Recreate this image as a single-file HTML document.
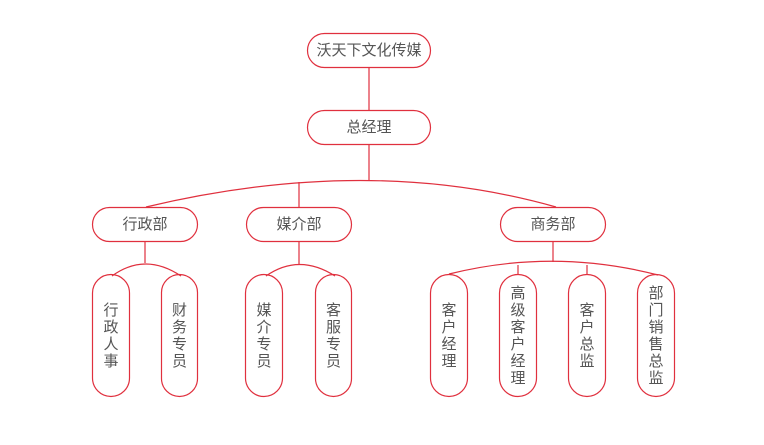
<!DOCTYPE html>
<html><head><meta charset="utf-8"><style>
html,body{margin:0;padding:0;background:#fff;width:764px;height:445px;overflow:hidden;position:relative}
svg{position:absolute;left:0;top:0}
.t{position:absolute;display:flex;align-items:center;justify-content:center;text-align:center;color:#555;font-family:"Liberation Sans","Noto Sans CJK SC",sans-serif;font-size:15px;line-height:17px}
.v{width:20px;word-break:break-all}
</style></head><body>
<svg width="764" height="445" fill="none" stroke="#e0303e" stroke-width="1.2">
<rect x="307.5" y="33.5" width="123" height="34" rx="17"/>
<rect x="307.5" y="110.5" width="123" height="34" rx="17"/>
<line x1="369" y1="67.5" x2="369" y2="110.5"/>
<line x1="369" y1="144.5" x2="369" y2="180"/>
<path d="M146 207 Q369 154 556 207"/>
<line x1="299" y1="182" x2="299" y2="207.5"/>
<rect x="92.5" y="207.5" width="105" height="34" rx="17"/>
<rect x="246.5" y="207.5" width="105" height="34" rx="17"/>
<rect x="500.5" y="207.5" width="105" height="34" rx="17"/>
<line x1="145" y1="241.5" x2="145" y2="263"/>
<path d="M112 276 Q145 252 181 276"/>
<line x1="299" y1="241.5" x2="299" y2="264"/>
<path d="M266 276 Q299 253 335 276"/>
<line x1="553" y1="241.5" x2="553" y2="262"/>
<path d="M449 274 Q553 248 658 275"/>
<line x1="518" y1="265" x2="518" y2="275"/>
<line x1="587" y1="265" x2="587" y2="275"/>
<rect x="92.5" y="274.5" width="37" height="122" rx="18.5"/>
<rect x="161.5" y="274.5" width="36" height="122" rx="18"/>
<rect x="245.5" y="274.5" width="37" height="122" rx="18.5"/>
<rect x="315.5" y="274.5" width="36" height="122" rx="18"/>
<rect x="430.5" y="274.5" width="37" height="122" rx="18.5"/>
<rect x="499.5" y="274.5" width="37" height="122" rx="18.5"/>
<rect x="568.5" y="274.5" width="37" height="122" rx="18.5"/>
<rect x="637.5" y="274.5" width="37" height="122" rx="18.5"/>
</svg>
<div class="t" style="left:307px;top:33px;width:124px;height:35px">沃天下文化传媒</div>
<div class="t" style="left:307px;top:110px;width:124px;height:35px">总经理</div>
<div class="t" style="left:92px;top:207px;width:106px;height:35px">行政部</div>
<div class="t" style="left:246px;top:207px;width:106px;height:35px">媒介部</div>
<div class="t" style="left:500px;top:207px;width:106px;height:35px">商务部</div>
<div class="t" style="left:92px;top:274px;width:38px;height:123px"><div class="v">行政人事</div></div>
<div class="t" style="left:161px;top:274px;width:37px;height:123px"><div class="v">财务专员</div></div>
<div class="t" style="left:245px;top:274px;width:38px;height:123px"><div class="v">媒介专员</div></div>
<div class="t" style="left:315px;top:274px;width:37px;height:123px"><div class="v">客服专员</div></div>
<div class="t" style="left:430px;top:274px;width:38px;height:123px"><div class="v">客户经理</div></div>
<div class="t" style="left:499px;top:274px;width:38px;height:123px"><div class="v">高级客户经理</div></div>
<div class="t" style="left:568px;top:274px;width:38px;height:123px"><div class="v">客户总监</div></div>
<div class="t" style="left:637px;top:274px;width:38px;height:123px"><div class="v">部门销售总监</div></div>
</body></html>
